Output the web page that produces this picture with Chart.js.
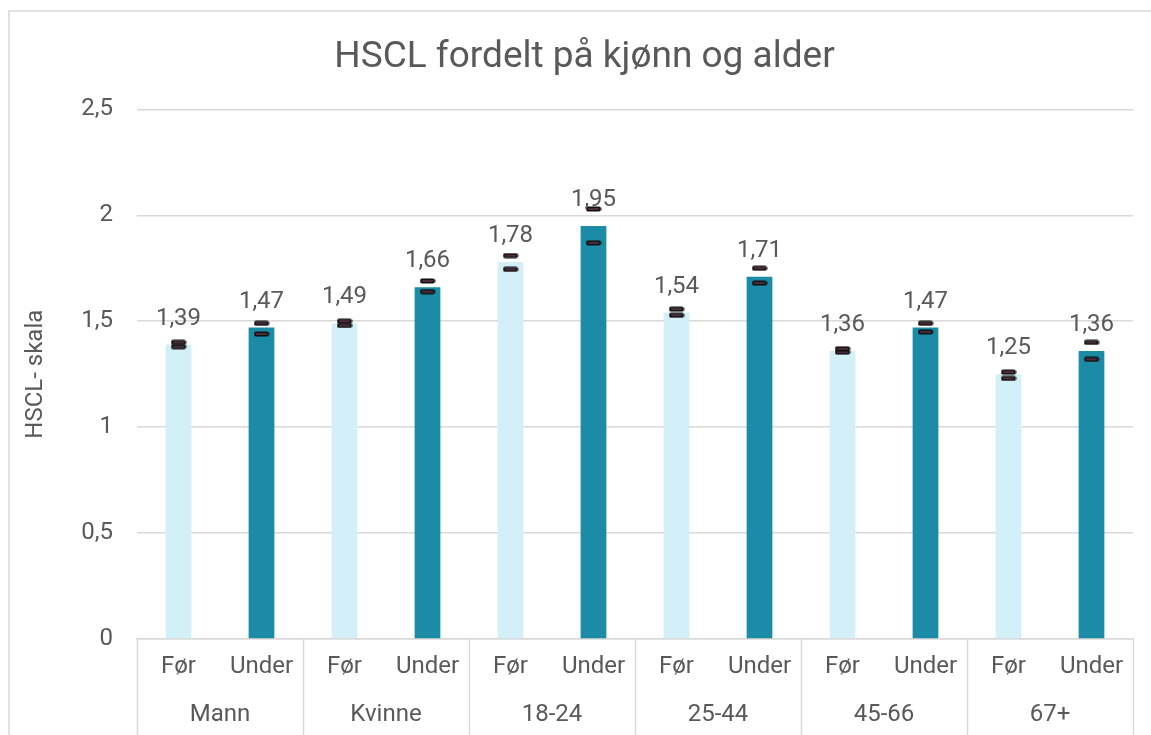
<!DOCTYPE html>
<html>
<head>
<meta charset="utf-8">
<script src="https://cdn.jsdelivr.net/npm/chart.js@4"></script>
<style>
  html, body { margin: 0; padding: 0; background: #fff; }
  #wrap { width: 1151px; height: 735px; }
</style>
</head>
<body>
<div id="wrap"><canvas id="myChart" width="1151" height="735"></canvas></div>
<script>
// data
let periods = ['Før', 'Under', 'Før', 'Under', 'Før', 'Under', 'Før', 'Under', 'Før', 'Under', 'Før', 'Under'];
let groups = ['Mann', 'Kvinne', '18-24', '25-44', '45-66', '67+'];
let hscl = [1.39, 1.47, 1.49, 1.66, 1.78, 1.95, 1.54, 1.71, 1.36, 1.47, 1.25, 1.36];
let ciUpper = [1.40, 1.49, 1.50, 1.69, 1.81, 2.03, 1.557, 1.75, 1.37, 1.49, 1.26, 1.40];
let ciLower = [1.38, 1.44, 1.48, 1.64, 1.745, 1.87, 1.528, 1.68, 1.354, 1.45, 1.23, 1.32];
let yTicks = [0, 0.5, 1, 1.5, 2, 2.5];

const lightBlue = '#d3eff7';
const darkBlue = '#1b8ba6';
const textCol = '#595959';
const gridCol = '#d9d9d9';

let barColors = periods.map(p => p === 'Før' ? lightBlue : darkBlue);

function comma(v) {
  return String(v).replace('.', ',');
}

// small black cap marker used for the error values
function makeCap() {
  let c = document.createElement('canvas');
  c.width = 16;
  c.height = 6;
  let g = c.getContext('2d');
  g.fillStyle = '#111';
  g.beginPath();
  g.roundRect(0.5, 0.5, 15, 5, 2);
  g.fill();
  g.fillStyle = '#8a4a6a';
  g.fillRect(2.5, 2.5, 11, 1);
  return c;
}
let cap = makeCap();

const framePlugin = {
  id: 'frame',
  afterLayout(chart) {
    // title is centred on the framed box, not on the canvas
    chart.titleBlock.left += 24;
  },
  beforeDraw(chart) {
    let ctx = chart.ctx;
    ctx.save();
    ctx.strokeStyle = gridCol;
    ctx.lineWidth = 1.5;
    ctx.strokeRect(9, 11, chart.width + 20, chart.height + 20);
    ctx.restore();
  }
};

const groupLines = {
  id: 'groupLines',
  afterDraw(chart) {
    let ctx = chart.ctx;
    let xs = chart.scales.x;
    let area = chart.chartArea;
    ctx.save();
    ctx.strokeStyle = gridCol;
    ctx.lineWidth = 1.5;
    let xsPos = [area.left];
    for (let i = 1; i < groups.length; i++) {
      xsPos.push((xs.getPixelForValue(2 * i - 1) + xs.getPixelForValue(2 * i)) / 2);
    }
    xsPos.push(area.right);
    xsPos.forEach(x => {
      ctx.beginPath();
      ctx.moveTo(Math.round(x) + 0.5, area.bottom);
      ctx.lineTo(Math.round(x) + 0.5, chart.height);
      ctx.stroke();
    });
    ctx.restore();
  }
};

const valueLabels = {
  id: 'valueLabels',
  afterDatasetsDraw(chart) {
    let ctx = chart.ctx;
    let meta = chart.getDatasetMeta(0);
    ctx.save();
    ctx.fillStyle = textCol;
    ctx.font = '24px Roboto';
    ctx.textAlign = 'center';
    ctx.textBaseline = 'middle';
    meta.data.forEach((bar, i) => {
      ctx.fillText(comma(hscl[i]), bar.x, bar.y - 26);
    });
    ctx.restore();
  }
};

let ctx = document.getElementById('myChart');
let myChart = new Chart(ctx, {
  type: 'bar',
  data: {
    labels: periods,
    datasets: [
      {
        label: 'HSCL',
        data: hscl,
        backgroundColor: barColors,
        categoryPercentage: 1,
        barPercentage: 0.31,
        order: 2
      },
      {
        type: 'line',
        label: 'upper',
        data: ciUpper,
        showLine: false,
        pointStyle: cap,
        order: 1
      },
      {
        type: 'line',
        label: 'lower',
        data: ciLower,
        showLine: false,
        pointStyle: cap,
        order: 1
      }
    ]
  },
  options: {
    responsive: false,
    animation: false,
    layout: { padding: { left: 12, right: 18, top: 20, bottom: 0 } },
    plugins: {
      legend: { display: false },
      tooltip: { enabled: false },
      title: {
        display: true,
        text: 'HSCL fordelt på kjønn og alder',
        color: textCol,
        font: { family: 'Roboto', size: 37, weight: 'normal' },
        padding: { top: 16, bottom: 29 }
      }
    },
    scales: {
      y: {
        min: 0,
        max: 2.5,
        afterBuildTicks(axis) {
          axis.ticks = yTicks.map(v => ({ value: v }));
        },
        afterFit(axis) { axis.width = 125; },
        border: { display: false },
        grid: { color: gridCol, lineWidth: 1.5, drawTicks: false },
        ticks: {
          color: textCol,
          padding: 24,
          font: { family: 'Roboto', size: 24 },
          callback: v => comma(v)
        },
        title: {
          display: true,
          text: 'HSCL- skala',
          color: textCol,
          font: { family: 'Roboto', size: 24 },
          padding: { top: 10, bottom: 0 }
        }
      },
      x: {
        position: 'bottom',
        grid: { display: false, drawTicks: false },
        border: { display: true, color: gridCol, width: 1.5 },
        afterFit(axis) { axis.height = 48; },
        ticks: {
          color: textCol,
          padding: 14,
          font: { family: 'Roboto', size: 24 },
          autoSkip: false,
          maxRotation: 0
        }
      },
      x2: {
        position: 'bottom',
        type: 'category',
        labels: groups,
        offset: true,
        grid: { display: false, drawTicks: false },
        border: { display: false },
        afterFit(axis) { axis.height = 48; },
        ticks: {
          color: textCol,
          padding: 14,
          font: { family: 'Roboto', size: 24 },
          autoSkip: false,
          maxRotation: 0
        }
      }
    }
  },
  plugins: [framePlugin, groupLines, valueLabels]
});
</script>
</body>
</html>
